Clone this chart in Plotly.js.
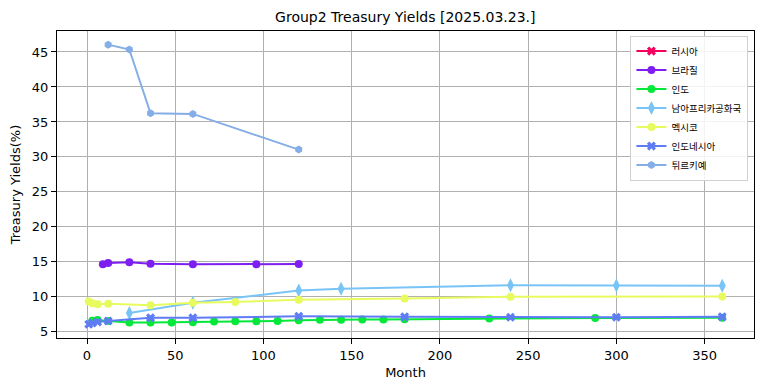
<!DOCTYPE html>
<html>
<head>
<meta charset="utf-8">
<script src="https://cdn.plot.ly/plotly-3.0.1.min.js"></script>
<style>html,body{margin:0;padding:0;background:#fff;}#chart{width:764px;height:391px;}</style>
</head>
<body>
<div id="chart"></div>
<script>
// Series names (legend)
const seriesNames = ["러시아", "브라질", "인도", "남아프리카공화국", "멕시코", "인도네시아", "튀르키예"];

// Maturities (months) and yields (%)
const russiaMonths = [];
const russiaYields = [];

const brazilMonths = [9, 12, 24, 36, 60, 96, 120];
const brazilYields = [14.65, 14.85, 14.95, 14.75, 14.65, 14.65, 14.7];

const indiaMonths = [3, 6, 12, 24, 36, 48, 60, 72, 84, 96, 108, 120, 132, 144, 156, 168, 180, 228, 288, 360];
const indiaYields = [6.6, 6.7, 6.55, 6.35, 6.33, 6.35, 6.38, 6.48, 6.5, 6.52, 6.55, 6.65, 6.72, 6.74, 6.76, 6.78, 6.8, 6.92, 6.97, 7.0];

const southAfricaMonths = [24, 60, 120, 144, 240, 300, 360];
const southAfricaYields = [7.7, 9.15, 10.9, 11.15, 11.65, 11.62, 11.6];

const mexicoMonths = [1, 3, 6, 12, 36, 60, 84, 120, 180, 240, 360];
const mexicoYields = [9.35, 9.1, 8.95, 9.0, 8.8, 9.15, 9.28, 9.6, 9.75, 10.0, 10.05];

const indonesiaMonths = [1, 3, 6, 12, 36, 60, 120, 180, 240, 300, 360];
const indonesiaYields = [6.1, 6.25, 6.4, 6.55, 7.0, 7.0, 7.22, 7.14, 7.1, 7.1, 7.14];

const turkeyMonths = [12, 24, 36, 60, 120];
const turkeyYields = [46.05, 45.35, 36.25, 36.15, 31.05];

const xTicks = [0, 50, 100, 150, 200, 250, 300, 350];
const yTicks = [5, 10, 15, 20, 25, 30, 35, 40, 45];

const colors = ["#f5005f", "#7d1ff0", "#05e83a", "#79c4f6", "#e8fb5e", "#5f7cf5", "#86aee6"];
const symbols = ["x", "circle", "circle", "diamond-tall", "circle", "x", "hexagon"];
const xs = [russiaMonths, brazilMonths, indiaMonths, southAfricaMonths, mexicoMonths, indonesiaMonths, turkeyMonths];
const ys = [russiaYields, brazilYields, indiaYields, southAfricaYields, mexicoYields, indonesiaYields, turkeyYields];

const traces = seriesNames.map((n, i) => ({
  type: "scatter",
  mode: "lines+markers",
  name: n,
  x: xs[i],
  y: ys[i],
  line: {color: colors[i], width: 2},
  marker: {color: colors[i], size: symbols[i] === "diamond-tall" ? 10 : 8, symbol: symbols[i], line: {width: 0}}
}));
// Russia has no readable points in the reference; keep it in the legend
traces[0].x = [null];
traces[0].y = [null];

const font = "DejaVu Sans, sans-serif";
const layout = {
  width: 764,
  height: 391,
  margin: {l: 57, r: 10, t: 31, b: 53},
  paper_bgcolor: "#fff",
  plot_bgcolor: "#fff",
  font: {family: font, size: 13, color: "#000"},
  title: {text: "Group2 Treasury Yields [2025.03.23.]", font: {family: font, size: 14, color: "#000"}, x: 0.5305, xanchor: "center", y: 0.955, yanchor: "middle"},
  xaxis: {
    title: {text: "Month", font: {family: font, size: 13}, standoff: 6},
    range: [-17, 378],
    tickvals: xTicks,
    ticktext: xTicks.map(String),
    ticks: "outside", ticklen: 5, tickcolor: "#000",
    showline: true, linecolor: "#000", linewidth: 1, mirror: true,
    showgrid: true, gridcolor: "#b0b0b0", gridwidth: 1,
    zeroline: false,
    tickfont: {family: font, size: 13}
  },
  yaxis: {
    title: {text: "Treasury Yields(%)", font: {family: font, size: 13}, standoff: 8},
    range: [4.12, 48.0],
    tickvals: yTicks,
    ticktext: yTicks.map(String),
    ticks: "outside", ticklen: 5, tickcolor: "#000",
    showline: true, linecolor: "#000", linewidth: 1, mirror: true,
    showgrid: true, gridcolor: "#b0b0b0", gridwidth: 1,
    zeroline: false,
    tickfont: {family: font, size: 13}
  },
  showlegend: true,
  legend: {
    x: 0.992, y: 0.985, xanchor: "right", yanchor: "top",
    bgcolor: "rgba(255,255,255,0.85)", bordercolor: "#d0d0d0", borderwidth: 1,
    font: {family: "Noto Sans CJK KR, sans-serif", size: 9.5, color: "#000"},
    tracegroupgap: 0, itemwidth: 30
  }
};

Plotly.newPlot("chart", traces, layout, {displayModeBar: false, staticPlot: true});
</script>
</body>
</html>
